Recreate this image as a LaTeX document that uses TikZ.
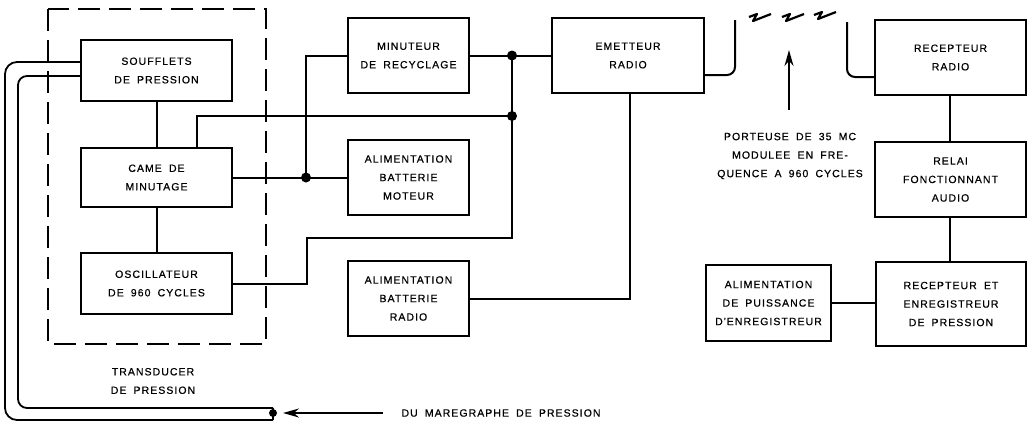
\documentclass[tikz,border=0pt]{standalone}
\usepackage{fontspec}
\newfontfamily\labfont[LetterSpace=10,WordSpace=1.8,FakeBold=0.6]{Liberation Sans}
\usetikzlibrary{arrows.meta}
\begin{document}
\begin{tikzpicture}[x=1pt,y=-1pt,
  blk/.style={draw,line width=1.8pt,rectangle,inner sep=0pt,align=center,font=\labfont\fontsize{10.5}{18.5}\selectfont},
  wire/.style={line width=2pt},
  lbl/.style={align=center,font=\labfont\fontsize{10.5}{18.5}\selectfont},
  jdot/.style={circle,fill,inner sep=0pt,minimum size=10pt}]
\useasboundingbox (0,0) rectangle (1027,423);
% dashed transducer frame
\draw[line width=1.8pt,dash pattern=on 22pt off 9pt] (48,9) rectangle (266,344);
% blocks
\node[blk,minimum width=151pt,minimum height=61pt] (souf) at (156.5,70.5) {SOUFFLETS\\DE PRESSION};
\node[blk,minimum width=151pt,minimum height=59pt] (came) at (156.5,177.5) {CAME DE\\MINUTAGE};
\node[blk,minimum width=151pt,minimum height=61pt] (osc) at (156.5,283.5) {OSCILLATEUR\\DE 960 CYCLES};
\node[blk,minimum width=121pt,minimum height=75pt] (minut) at (408.5,55.5) {MINUTEUR\\DE RECYCLAGE};
\node[blk,minimum width=121pt,minimum height=75pt] (moteur) at (408.5,177.5) {ALIMENTATION\\BATTERIE\\MOTEUR};
\node[blk,minimum width=121pt,minimum height=75pt] (batradio) at (408.5,298.5) {ALIMENTATION\\BATTERIE\\RADIO};
\node[blk,minimum width=152pt,minimum height=75pt] (emet) at (628,55.5) {EMETTEUR\\RADIO};
\node[blk,minimum width=151pt,minimum height=75pt] (recr) at (950.5,57.5) {RECEPTEUR\\RADIO};
\node[blk,minimum width=151pt,minimum height=75pt] (relai) at (950.5,179.5) {RELAI\\FONCTIONNANT\\AUDIO};
\node[blk,minimum width=150pt,minimum height=84pt] (rece) at (951,304) {RECEPTEUR ET\\ENREGISTREUR\\DE PRESSION};
\node[blk,minimum width=125pt,minimum height=76pt] (puis) at (768.5,303) {ALIMENTATION\\DE PUISSANCE\\D'ENREGISTREUR};
% junction dots
\node[jdot] (d1) at (306,177.5) {};
\node[jdot] (d2) at (512,55.5) {};
\node[jdot] (d3) at (512,116) {};
% wiring
\draw[wire] (souf.south) -- (came.north);
\draw[wire] (came.south) -- (osc.north);
\draw[wire] (came.east) -- (d1.center) -- (moteur.west);
\draw[wire] (d1.center) |- (minut.west);
\draw[wire] (minut.east) -- (d2.center) -- (emet.west);
\draw[wire] (came.north -| 197,0) |- (d3.center);
\draw[wire] (d2.center) -- (d3.center) -- (512,238) -| (307,283.5) -- (osc.east);
\draw[wire] (emet.south -| 630,0) |- (batradio.east);
\draw[wire] (recr.south -| 950,0) -- (relai.north -| 950,0);
\draw[wire] (relai.south -| 950,0) -- (rece.north -| 950,0);
\draw[wire] (puis.east) -- (rece.west |- puis.east);
% antenna feeds
\draw[wire,rounded corners=8pt] (emet.east |- 0,75) -- (735,75) -- (735,20);
\draw[wire,rounded corners=8pt] (847,22) -- (847,77) -- (recr.west |- 0,77);
% radio waves
\foreach \cx/\cy in {760/18,793/18,825/16}
  \draw[line width=2.2pt,line join=round] (\cx-11,\cy-1) -- (\cx-3,\cy-4) -- (\cx-7,\cy+3) -- (\cx+11,\cy-4);
% carrier arrow and label
\coordinate (ca) at (789,110);
\coordinate (cb) at (789,50);
\draw[wire,-{Stealth[length=16pt,width=9pt]}] (ca) -- (cb);
\node[lbl] (carrier) at (790,156) {PORTEUSE DE 35 MC\\MODULEE EN FRE-\\QUENCE A 960 CYCLES};
% pressure tube
\coordinate (pend) at (273,413);
\draw[line width=1.8pt,rounded corners=12pt] (souf.west |- 0,62) -- (5,62) -- (5,420) -- (273,420);
\draw[line width=1.8pt,rounded corners=9pt] (souf.west |- 0,76) -- (18,76) -- (18,408) -- (273,408);
\draw[line width=1.8pt] (273,408) -- (273,420);
\node[circle,fill,inner sep=0pt,minimum size=8pt] (pdot) at (pend) {};
\node[lbl,anchor=west] (mare) at (398,413) {DU MAREGRAPHE DE PRESSION};
\coordinate (astart) at (383,413);
\draw[wire,-{Stealth[length=16pt,width=9pt]}] (astart) -- (283,413);
\node[lbl] (trans) at (153,381) {TRANSDUCER\\DE PRESSION};
\end{tikzpicture}
\end{document}
